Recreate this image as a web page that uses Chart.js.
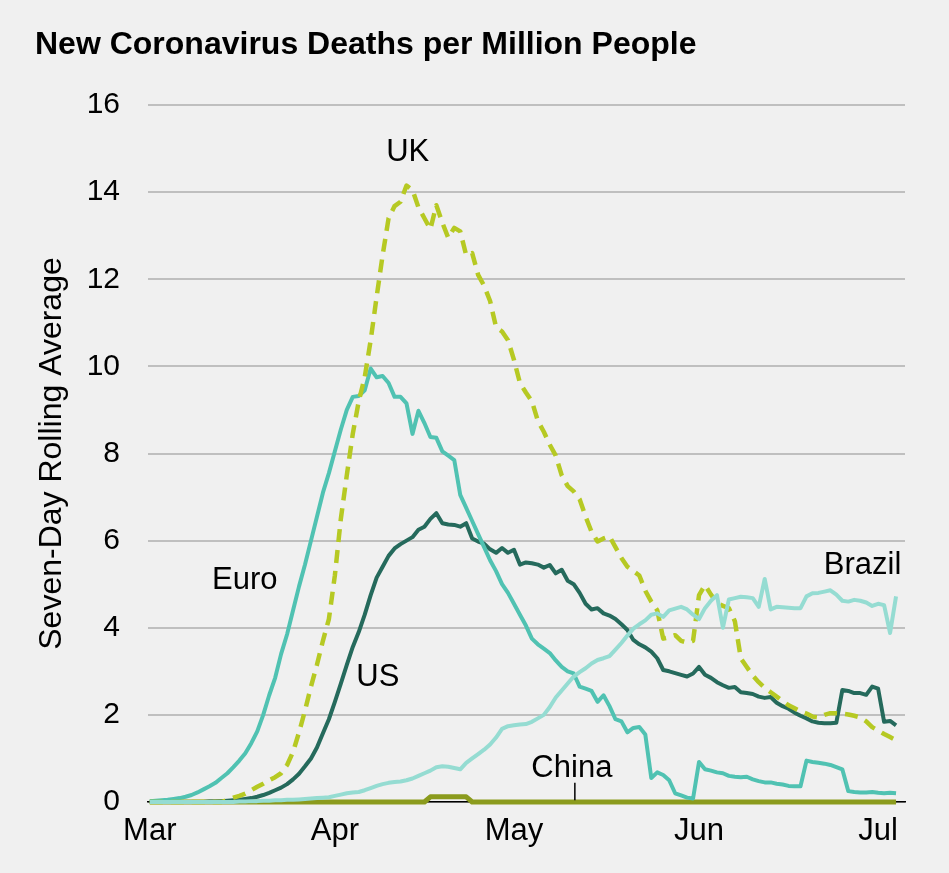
<!DOCTYPE html>
<html>
<head>
<meta charset="utf-8">
<title>New Coronavirus Deaths per Million People</title>
<script src="https://cdn.jsdelivr.net/npm/chart.js@4.4.1/dist/chart.umd.min.js"></script>
<style>
  html, body { margin: 0; padding: 0; background: #f0f0f0; }
  #wrap { width: 949px; height: 873px; position: relative; }
</style>
</head>
<body>
<div id="wrap"><canvas id="deaths-chart"></canvas></div>
<script>
// seven-day rolling average of new deaths per million, one value per day from 1 March
var euro = [
  0.02, 0.03, 0.04, 0.05, 0.07, 0.09, 0.12, 0.16, 0.22, 0.29,
  0.36, 0.44, 0.55, 0.66, 0.80, 0.95, 1.12, 1.35, 1.62, 2.00,
  2.45, 2.85, 3.40, 3.85, 4.40, 4.95, 5.45, 6.00, 6.55, 7.10,
  7.55, 8.05, 8.55, 9.00, 9.30, 9.32, 9.45, 9.95, 9.75, 9.78,
  9.62, 9.30, 9.30, 9.15, 8.45, 8.98, 8.70, 8.38, 8.36, 8.05,
  7.95, 7.85, 7.05, 6.75, 6.45, 6.15, 5.85, 5.55, 5.30, 5.00,
  4.80, 4.55, 4.30, 4.05, 3.75, 3.62, 3.52, 3.42, 3.25, 3.10,
  3.00, 2.95, 2.65, 2.60, 2.55, 2.30, 2.45, 2.20, 1.90, 1.85,
  1.60, 1.70, 1.72, 1.55, 0.55, 0.68, 0.62, 0.50, 0.20, 0.15,
  0.10, 0.08, 0.92, 0.75, 0.72, 0.68, 0.66, 0.60, 0.58, 0.57,
  0.58, 0.52, 0.48, 0.45, 0.45, 0.42, 0.40, 0.37, 0.36, 0.36,
  0.95, 0.92, 0.90, 0.88, 0.85, 0.80, 0.75, 0.25, 0.23, 0.22,
  0.22, 0.23, 0.21, 0.20, 0.21, 0.20
];
var uk = [
  0, 0, 0, 0, 0, 0, 0, 0, 0, 0,
  0, 0, 0, 0.05, 0.10, 0.14, 0.19, 0.27, 0.35, 0.42,
  0.50, 0.57, 0.66, 0.85, 1.15, 1.60, 2.10, 2.65, 3.15, 3.70,
  4.20, 5.20, 6.50, 7.50, 8.45, 9.20, 9.75, 10.60, 11.60, 12.55,
  13.40, 13.68, 13.78, 14.15, 14.05, 13.65, 13.40, 13.15, 13.70, 13.30,
  12.95, 13.18, 13.10, 12.55, 12.60, 12.10, 11.85, 11.50, 10.90, 10.80,
  10.60, 10.15, 9.62, 9.40, 9.20, 8.75, 8.50, 8.20, 7.95, 7.50,
  7.25, 7.13, 6.95, 6.55, 6.20, 5.98, 6.05, 6.10, 5.85, 5.60,
  5.40, 5.30, 5.20, 4.85, 4.60, 4.40, 3.75, 3.78, 3.83, 3.70,
  3.66, 3.70, 4.75, 4.98, 4.76, 4.58, 4.50, 4.45, 4.15, 3.30,
  3.10, 2.90, 2.75, 2.62, 2.52, 2.42, 2.32, 2.22, 2.15, 2.08,
  2.03, 1.96, 1.94, 2.00, 2.04, 2.04, 2.03, 2.01, 1.98, 1.94,
  1.85, 1.72, 1.64, 1.56, 1.49, 1.42
];
var us = [
  0, 0, 0, 0, 0, 0, 0, 0, 0, 0,
  0.01, 0.01, 0.02, 0.03, 0.04, 0.05, 0.07, 0.09, 0.12, 0.16,
  0.21, 0.27, 0.33, 0.41, 0.52, 0.65, 0.82, 1.00, 1.25, 1.58,
  1.90, 2.30, 2.72, 3.15, 3.56, 3.90, 4.30, 4.75, 5.15, 5.40,
  5.65, 5.82, 5.92, 6.00, 6.08, 6.25, 6.32, 6.50, 6.63, 6.40,
  6.37, 6.36, 6.32, 6.40, 6.05, 5.98, 5.93, 5.80, 5.72, 5.83,
  5.72, 5.79, 5.45, 5.50, 5.48, 5.45, 5.38, 5.44, 5.25, 5.33,
  5.08, 5.00, 4.80, 4.55, 4.42, 4.45, 4.33, 4.28, 4.20, 4.08,
  3.95, 3.72, 3.62, 3.55, 3.45, 3.30, 3.03, 3.00, 2.96, 2.92,
  2.88, 2.95, 3.10, 2.92, 2.85, 2.75, 2.68, 2.62, 2.64, 2.52,
  2.50, 2.48, 2.42, 2.39, 2.41, 2.28, 2.20, 2.14, 2.05, 1.98,
  1.92, 1.85, 1.82, 1.81, 1.81, 1.82, 2.57, 2.55, 2.50, 2.50,
  2.46, 2.65, 2.60, 1.84, 1.86, 1.76
];
var brazil = [
  0, 0, 0, 0, 0, 0, 0, 0, 0, 0,
  0, 0, 0, 0, 0, 0.01, 0.01, 0.02, 0.02, 0.03,
  0.03, 0.04, 0.04, 0.05, 0.05, 0.06, 0.07, 0.08, 0.09, 0.10,
  0.11, 0.14, 0.17, 0.20, 0.22, 0.23, 0.27, 0.32, 0.37, 0.41,
  0.44, 0.46, 0.47, 0.50, 0.54, 0.60, 0.66, 0.72, 0.80, 0.82,
  0.81, 0.78, 0.75, 0.90, 1.00, 1.10, 1.20, 1.32, 1.48, 1.68,
  1.74, 1.76, 1.78, 1.79, 1.84, 1.92, 2.00, 2.18, 2.40, 2.56,
  2.72, 2.88, 2.98, 3.07, 3.18, 3.26, 3.30, 3.35, 3.50, 3.65,
  3.82, 3.98, 4.08, 4.17, 4.30, 4.33, 4.25, 4.40, 4.44, 4.48,
  4.42, 4.30, 4.20, 4.45, 4.62, 4.75, 4.00, 4.65, 4.68, 4.71,
  4.70, 4.68, 4.48, 5.12, 4.42, 4.48, 4.47, 4.46, 4.45, 4.45,
  4.72, 4.79, 4.80, 4.83, 4.86, 4.76, 4.62, 4.60, 4.64, 4.62,
  4.58, 4.50, 4.55, 4.52, 3.88, 4.72
];
var china = [
  0, 0, 0, 0, 0, 0, 0, 0, 0, 0,
  0, 0, 0, 0, 0, 0, 0, 0, 0, 0,
  0, 0, 0, 0, 0, 0, 0, 0, 0, 0,
  0, 0, 0, 0, 0, 0, 0, 0, 0, 0,
  0, 0, 0, 0, 0, 0, 0, 0.12, 0.12, 0.12,
  0.12, 0.12, 0.12, 0.12, 0, 0, 0, 0, 0, 0,
  0, 0, 0, 0, 0, 0, 0, 0, 0, 0,
  0, 0, 0, 0, 0, 0, 0, 0, 0, 0,
  0, 0, 0, 0, 0, 0, 0, 0, 0, 0,
  0, 0, 0, 0, 0, 0, 0, 0, 0, 0,
  0, 0, 0, 0, 0, 0, 0, 0, 0, 0,
  0, 0, 0, 0, 0, 0, 0, 0, 0, 0,
  0, 0, 0, 0, 0, 0
];

// x ticks sit on the first day of each month (days since 1 March)
var monthStarts = [0, 31, 61, 92, 122];
var monthLabels = ["Mar", "Apr", "May", "Jun", "Jul"];
var yTicks = [0, 2, 4, 6, 8, 10, 12, 14, 16];

// series names written next to their lines: [text, day, value]
var seriesLabels = [
  ["UK", 43.2, 14.92],
  ["Euro", 15.9, 5.08],
  ["US", 38.2, 2.85],
  ["China", 70.7, 0.78],
  ["Brazil", 119.4, 5.44]
];

var FONT = "'Liberation Sans', Arial, sans-serif";
var days = euro.map(function (v, i) { return i; });

var bgPlugin = {
  id: "bg",
  beforeDraw: function (chart) {
    var ctx = chart.ctx;
    ctx.save();
    ctx.fillStyle = "#f0f0f0";
    ctx.fillRect(0, 0, chart.width, chart.height);
    ctx.restore();
  }
};

var textPlugin = {
  id: "texts",
  afterDraw: function (chart) {
    var ctx = chart.ctx;
    var x = chart.scales.x;
    var y = chart.scales.y;
    ctx.save();
    ctx.fillStyle = "#000";
    ctx.textBaseline = "middle";
    ctx.textAlign = "left";
    ctx.font = "bold 32px " + FONT;
    ctx.fillText("New Coronavirus Deaths per Million People", 35, 45);

    ctx.font = "31px " + FONT;
    ctx.textAlign = "center";
    seriesLabels.forEach(function (l) {
      ctx.fillText(l[0], x.getPixelForValue(l[1]), y.getPixelForValue(l[2]));
    });

    // small leader under the China label
    ctx.strokeStyle = "#000";
    ctx.lineWidth = 1.5;
    ctx.beginPath();
    ctx.moveTo(x.getPixelForValue(71.2), y.getPixelForValue(0.44));
    ctx.lineTo(x.getPixelForValue(71.2), y.getPixelForValue(0.04));
    ctx.stroke();
    ctx.restore();
  }
};

function line(label, data, color, width, extra) {
  var ds = {
    label: label,
    data: data,
    borderColor: color,
    borderWidth: width,
    pointRadius: 0,
    tension: 0,
    fill: false,
    clip: false,
    borderJoinStyle: "round"
  };
  return Object.assign(ds, extra || {});
}

var config = {
  type: "line",
  data: {
    labels: days,
    datasets: [
      line("Brazil", brazil, "#95dcd2", 4),
      line("UK", uk, "#b6c923", 4.5, { borderDash: [13, 8] }),
      line("Euro", euro, "#50c2b2", 4),
      line("US", us, "#256a5c", 4),
      line("China", china, "#8b9b1d", 5)
    ]
  },
  options: {
    responsive: true,
    maintainAspectRatio: false,
    animation: false,
    events: [],
    layout: { padding: { top: 105, right: 44, bottom: 0, left: 0 } },
    plugins: {
      legend: { display: false },
      tooltip: { enabled: false },
      title: { display: false }
    },
    scales: {
      x: {
        type: "linear",
        min: -0.3,
        max: 126.5,
        grid: { display: false, drawTicks: false },
        border: { display: true, color: "#000", width: 1.5 },
        afterBuildTicks: function (scale) {
          scale.ticks = monthStarts.map(function (v) { return { value: v }; });
        },
        afterFit: function (scale) { scale.height = 71; },
        ticks: {
          autoSkip: false,
          maxRotation: 0,
          padding: 11,
          color: "#000",
          font: { family: FONT, size: 31 },
          callback: function (v) { return monthLabels[monthStarts.indexOf(v)]; }
        }
      },
      y: {
        min: 0,
        max: 16,
        afterBuildTicks: function (scale) {
          scale.ticks = yTicks.map(function (v) { return { value: v }; });
        },
        afterFit: function (scale) { scale.width = 148; },
        grid: { color: "#bfbfbf", lineWidth: 2, drawTicks: false },
        border: { display: false },
        ticks: {
          padding: 28,
          color: "#000",
          font: { family: FONT, size: 30 }
        },
        title: {
          display: true,
          text: "Seven-Day Rolling Average",
          color: "#000",
          font: { family: FONT, size: 32 },
          padding: { top: 33, bottom: 0 }
        }
      }
    }
  },
  plugins: [bgPlugin, textPlugin]
};

new Chart(document.getElementById("deaths-chart").getContext("2d"), config);
</script>
</body>
</html>
